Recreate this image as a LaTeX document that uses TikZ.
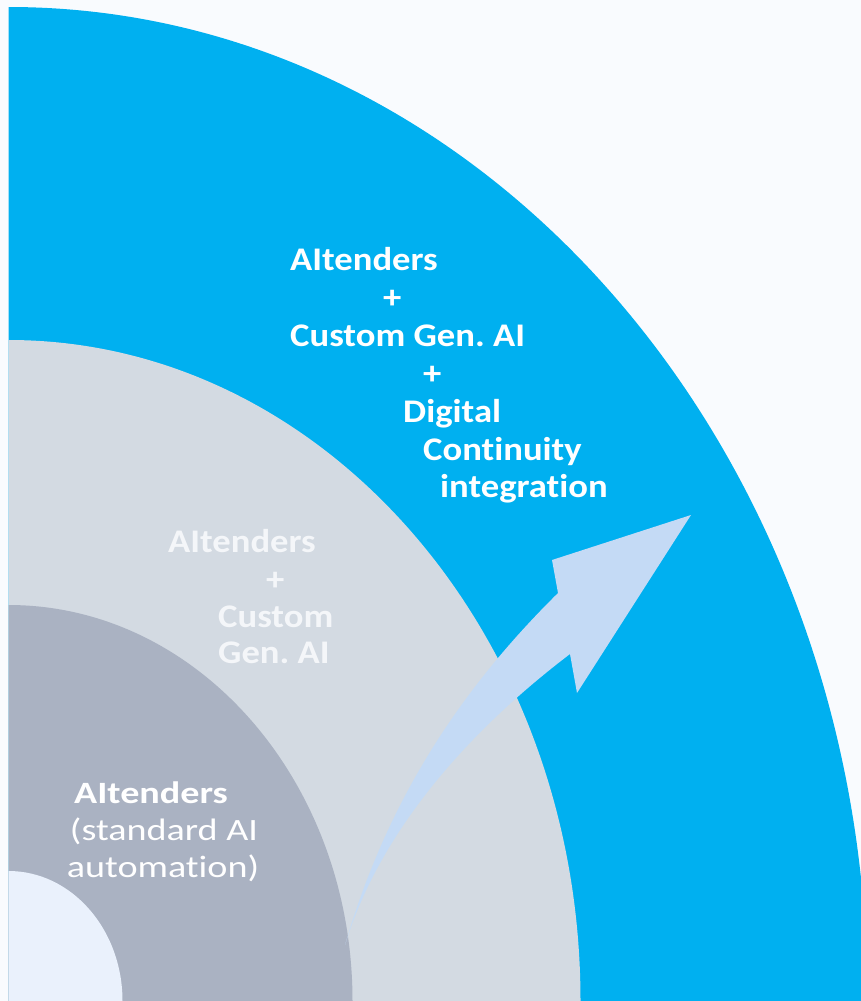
\documentclass[tikz,border=0pt]{standalone}
\usepackage{fontspec}
\setmainfont{Carlito}[FakeStretch=1.11, Ligatures=NoCommon]
\newfontfamily\widefont{Carlito}[FakeStretch=1.23, Ligatures=NoCommon]
\usepackage{tikz}
\frenchspacing

\definecolor{pageback}{HTML}{F9FBFE}
\definecolor{ringblue}{HTML}{00B0F0}
\definecolor{ringlight}{HTML}{D3DAE2}
\definecolor{ringdark}{HTML}{AAB2C2}
\definecolor{ringcore}{HTML}{EAF1FC}
\definecolor{arrowfill}{HTML}{C4DAF5}
\definecolor{softwhite}{HTML}{F4F6F9}

\begin{document}
\begin{tikzpicture}[x=1pt, y=-1pt,
big_text/.style={anchor=base west, inner sep=0pt, text=white, font=\fontsize{33pt}{38pt}\selectfont\bfseries},
soft_text/.style={big_text, text=softwhite},
core_text/.style={anchor=base west, inner sep=0pt, text=white, font=\widefont\fontsize{31pt}{37pt}\selectfont\bfseries},
plain_text/.style={anchor=base, inner sep=0pt, text=white, font=\widefont\fontsize{31pt}{37pt}\selectfont}]
\fill[pageback] (0,0) rectangle (861,1001);
\useasboundingbox (0,0) rectangle (861,1001);

\begin{scope}
\clip (8.5,0) rectangle (861,1001);
\fill[ringblue]  (8.5,1001) ellipse [x radius=859pt, y radius=994pt];
\fill[ringlight] (8.5,1001) ellipse [x radius=572pt, y radius=661pt];
\fill[ringdark]  (8.5,1001) ellipse [x radius=344pt, y radius=396pt];
\fill[ringcore]  (8.5,1001) ellipse [x radius=114pt, y radius=130pt];
\end{scope}

\fill[arrowfill] (345,945) .. controls (390,790) and (470,680) .. (558,593)
  -- (552,560) -- (691,515) -- (577,693) -- (570,654)
  .. controls (470,730) and (380,830) .. cycle;

\node[big_text] (outer1) at (290,270) {AItenders};
\node[big_text] (outer2) at (383,308) {+};
\node[big_text] (outer3) at (290,346) {Custom Gen. AI};
\node[big_text] (outer4) at (423,384) {+};
\node[big_text] (outer5) at (403,422) {Digital};
\node[big_text] (outer6) at (423,460) {Continuity};
\node[big_text] (outer7) at (440,497) {integration};

\node[soft_text] (mid1) at (168,552) {AItenders};
\node[soft_text] (mid2) at (266,590) {+};
\node[soft_text] (mid3) at (218,627) {Custom};
\node[soft_text] (mid4) at (218,663) {Gen. AI};

\node[core_text] (inner1) at (74,803) {AItenders};
\node[plain_text] (inner2) at (164,840) {(standard AI};
\node[plain_text] (inner3) at (163,877) {automation)};

\end{tikzpicture}
\end{document}
